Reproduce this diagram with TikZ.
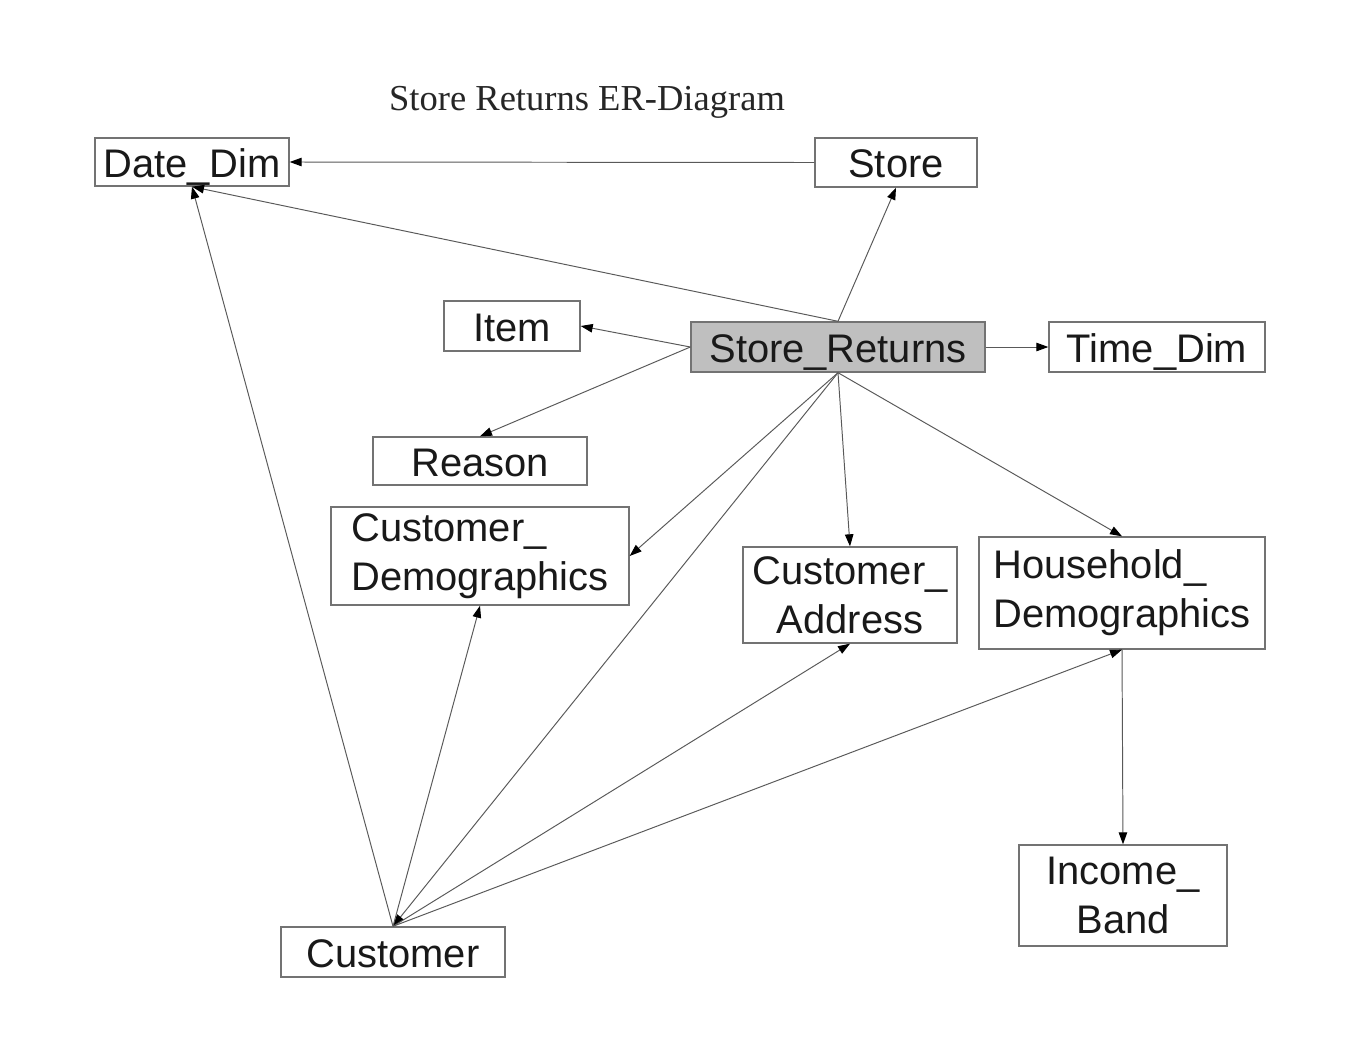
\documentclass[tikz,border=0pt]{standalone}
\usepackage{fontspec}
\setmainfont{Liberation Sans}
\newfontfamily\titlefont{Liberation Serif}
\usetikzlibrary{arrows.meta}
\begin{document}
\begin{tikzpicture}[x=0.02cm,y=-0.02cm,
  ent/.style={draw=black!55,line width=0.8pt,inner sep=0pt,fill=white,
    font=\fontsize{22.7pt}{27.9pt}\selectfont,text=black!90},
  one/.style={text height=0.62cm,text depth=0pt},
  hub/.style={ent,one,fill=black!25},
  rel/.style={draw=black!65,line width=0.55pt,-{Triangle[length=0.24cm,width=0.17cm,color=black]}}]
\useasboundingbox[fill=white] (0,0) rectangle (1358,1058);
\node[font=\titlefont\fontsize{20.8pt}{24pt}\selectfont,text=black!85] (title) at (587,102) {Store Returns ER-Diagram};
\node[ent,one,minimum width=3.88cm,minimum height=0.96cm] (dd) at (192,162) {Date\_Dim};
\node[ent,one,minimum width=3.24cm,minimum height=0.98cm] (st) at (896,162.5) {Store};
\node[ent,one,minimum width=2.72cm,minimum height=1.0cm] (it) at (512,326) {Item};
\node[hub,minimum width=5.88cm,minimum height=1.0cm] (sr) at (838,347) {Store\_Returns};
\node[ent,one,minimum width=4.32cm,minimum height=1.0cm] (td) at (1157,347) {Time\_Dim};
\node[ent,one,minimum width=4.28cm,minimum height=0.96cm] (re) at (480,461) {Reason};
\node[ent,minimum width=5.96cm,minimum height=1.96cm,align=left] (cd) at (480,556) {Customer\_\\Demographics};
\node[ent,minimum width=4.28cm,minimum height=1.92cm,align=center] (ca) at (850,595) {Customer\_\\Address};
\node[ent,minimum width=5.72cm,minimum height=2.24cm,align=left] (hd) at (1122,593) {Household\_\\Demographics};
\node[ent,minimum width=4.16cm,minimum height=2.02cm,align=center] (ib) at (1123,895.5) {Income\_\\Band};
\node[ent,one,minimum width=4.48cm,minimum height=1.0cm] (cu) at (393,952) {Customer};
\draw[rel] (st.west) -- (dd.east);
\draw[rel] (sr.north) -- (dd.south);
\draw[rel] (cu.north) -- (dd.south);
\draw[rel] (sr.north) -- (st.south);
\draw[rel] (sr.west) -- (it.east);
\draw[rel] (sr.west) -- (re.north);
\draw[rel] (sr.east) -- (td.west);
\draw[rel] (sr.south) -- (cd.east);
\draw[rel] (sr.south) -- (cu.north);
\draw[rel] (sr.south) -- (ca.north);
\draw[rel] (sr.south) -- (hd.north);
\draw[rel] (hd.south) -- (ib.north);
\draw[rel] (cu.north) -- (cd.south);
\draw[rel] (cu.north) -- (ca.south);
\draw[rel] (cu.north) -- (hd.south);
\end{tikzpicture}
\end{document}
